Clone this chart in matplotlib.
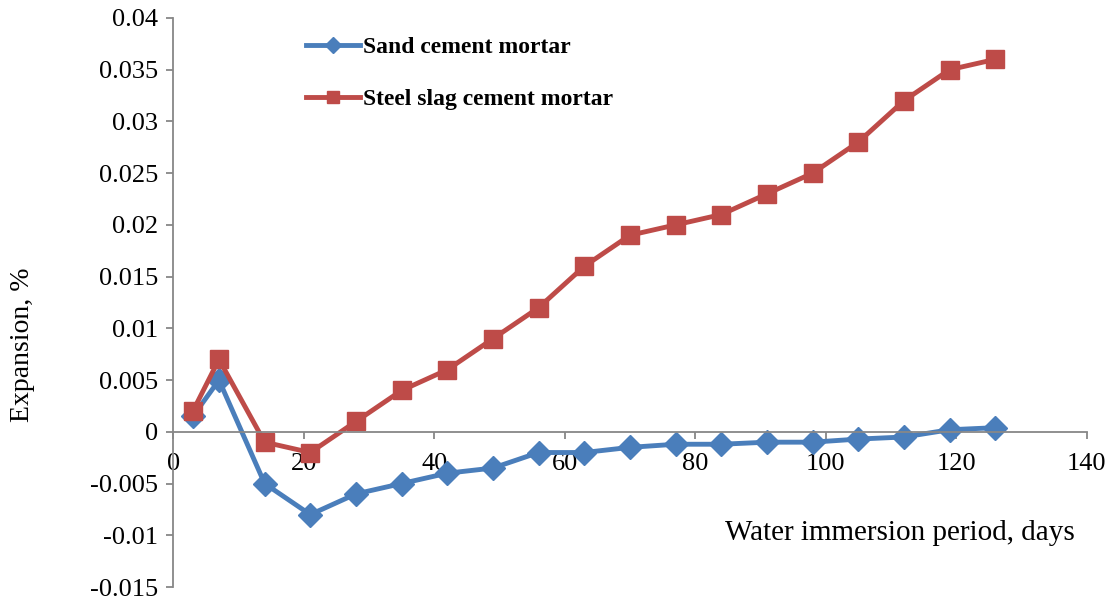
import matplotlib.pyplot as plt

# immersion days
days = [3, 7, 14, 21, 28, 35, 42, 49, 56, 63, 70, 77, 84, 91, 98, 105, 112, 119, 126]

# expansion, %
sand = [0.0015, 0.005, -0.005, -0.008, -0.006, -0.005, -0.004, -0.0035, -0.002, -0.002,
        -0.0015, -0.0012, -0.0012, -0.001, -0.001, -0.0007, -0.0005, 0.0002, 0.0004]
steel_slag = [0.002, 0.007, -0.001, -0.002, 0.001, 0.004, 0.006, 0.009, 0.012, 0.016,
              0.019, 0.020, 0.021, 0.023, 0.025, 0.028, 0.032, 0.035, 0.036]

plt.rcParams['font.family'] = ['Liberation Serif', 'DejaVu Serif']

fig = plt.figure(figsize=(11.11, 5.99), dpi=100)
ax = fig.add_axes([0.156, 0.02, 0.822, 0.95])

ax.plot(days, sand, color='#4A7EBB', lw=3.5, marker='D', ms=12, label='Sand cement mortar')
ax.plot(days, steel_slag, color='#BE4B48', lw=3.5, marker='s', ms=13,
        label='Steel slag cement mortar')

ax.set_xlim(0, 140)
ax.set_ylim(-0.015, 0.04)
ax.set_xticks(range(0, 141, 20))
ax.set_yticks([-0.015, -0.01, -0.005, 0, 0.005, 0.01, 0.015, 0.02, 0.025, 0.03, 0.035, 0.04])
ax.set_yticklabels(['-0.015', '-0.01', '-0.005', '0', '0.005', '0.01', '0.015', '0.02',
                    '0.025', '0.03', '0.035', '0.04'])

#------------------------------------------------------------------------------
# axes style: x axis crossing at y = 0
ax.spines['top'].set_visible(False)
ax.spines['right'].set_visible(False)
ax.spines['bottom'].set_position(('data', 0))
for s in ('left', 'bottom'):
    ax.spines[s].set_color('#878787')
    ax.spines[s].set_linewidth(1.3)
ax.tick_params(axis='both', colors='#878787', labelcolor='black', labelsize=19,
               length=5, width=1.3, direction='out')
ax.tick_params(axis='x', pad=10)
ax.tick_params(axis='y', pad=6)

ax.set_ylabel('Expansion, %', fontsize=20)
ax.yaxis.set_label_coords(-0.151, 0.425)
fig.text(0.967, 0.11, 'Water immersion period, days', fontsize=21, ha='right', va='center')

leg = ax.legend(loc='upper left', bbox_to_anchor=(0.2666, 0.955), bbox_transform=fig.transFigure,
                frameon=False, prop={'weight': 'bold', 'size': 17}, handlelength=2.3,
                handletextpad=0.15, labelspacing=1.3, borderaxespad=0, markerscale=0.7)

fig.savefig('out.png', dpi=100)
